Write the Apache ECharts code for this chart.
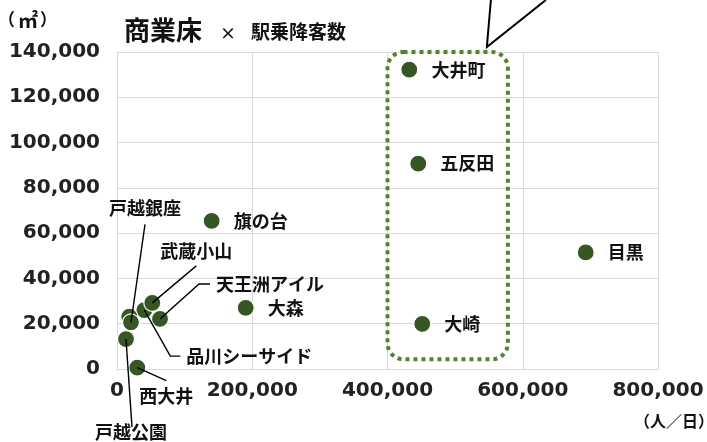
<!DOCTYPE html>
<html><head><meta charset="utf-8">
<script src="https://cdn.jsdelivr.net/npm/echarts@6/dist/echarts.min.js"></script>
<style>html,body{margin:0;padding:0;background:#fff}#c{width:707px;height:442px}</style>
</head><body><div id="c"></div>
<script>
// ---- data ----
const stations = ['大井町','五反田','大崎','目黒','旗の台','大森','品川シーサイド','武蔵小山','天王洲アイル','','戸越銀座','戸越公園','西大井'];
const ridership = [432200, 445500, 451400, 693100, 140000, 190300, 40400, 52200, 63600, 18200, 20700, 13300, 30000];
const floorArea = [132200, 90700, 19900, 51500, 65400, 27000, 26000, 29200, 22100, 23100, 20600, 13200, 600];
const xTicks = [0, 200000, 400000, 600000, 800000];
const yTicks = [0, 20000, 40000, 60000, 80000, 100000, 120000, 140000];
// highlighted group (data space): [xMin, xMax, yMin, yMax]
const highlightBox = [400000, 578000, 4300, 140000];

// ---- label placement (style, pixel offsets relative to each point) ----
const calloutLabels = {
  '戸越銀座':     {offset: [14, -114],  line: [[14, -98]]},
  '武蔵小山':     {offset: [44, -52],   line: [[44, -37]]},
  '天王洲アイル': {offset: [110, -35],  line: [[39, -35], [50, -35]]},
  '品川シーサイド': {offset: [105, 46], line: [[26, 46], [36, 46]]},
  '西大井':       {offset: [29, 29],    line: [[29, 13]]},
  '戸越公園':     {offset: [5, 93],     line: [[6, 88]]}
};
const labelFont = {fontFamily: '"Noto Sans CJK JP", sans-serif', fontSize: 18, fontWeight: 'bold', color: '#111'};
const tickFont = {fontFamily: '"DejaVu Sans", sans-serif', fontSize: 20, fontWeight: 'bold', color: '#222'};

const fmt = v => v.toLocaleString('en-US');

const data = stations.map((s, i) => {
  const item = {name: s, value: [ridership[i], floorArea[i]]};
  if (!s) {
    item.label = {show: false};
  } else if (calloutLabels[s]) {
    item.label = Object.assign({show: true, position: 'inside', align: 'center', verticalAlign: 'middle', offset: calloutLabels[s].offset, formatter: '{b}'}, labelFont);
  } else {
    item.label = Object.assign({show: true, position: 'right', distance: 13, formatter: '{b}'}, labelFont);
  }
  return item;
});

const chart = echarts.init(document.getElementById('c'), null, {renderer: 'canvas'});
const option = {
  animation: false,
  backgroundColor: '#fff',
  grid: {left: 117, right: 49, top: 52, bottom: 73, containLabel: false},
  xAxis: {
    type: 'value', min: xTicks[0], max: xTicks[xTicks.length - 1], interval: xTicks[1] - xTicks[0],
    axisLine: {show: true, lineStyle: {color: '#d9d9d9', width: 1}},
    axisTick: {show: false},
    splitLine: {show: true, lineStyle: {color: '#d9d9d9', width: 1}},
    axisLabel: Object.assign({margin: 12, formatter: fmt}, tickFont)
  },
  yAxis: {
    type: 'value', min: yTicks[0], max: yTicks[yTicks.length - 1], interval: yTicks[1] - yTicks[0],
    axisLine: {show: true, lineStyle: {color: '#d9d9d9', width: 1}},
    axisTick: {show: false},
    splitLine: {show: true, lineStyle: {color: '#d9d9d9', width: 1}},
    axisLabel: Object.assign({margin: 17, formatter: fmt}, tickFont)
  },
  series: [{
    type: 'scatter',
    symbolSize: 17,
    itemStyle: {color: '#375623', borderColor: '#fff', borderWidth: 1.2, opacity: 1},
    data: data,
    z: 2
  }]
};
chart.setOption(option);

// ---- annotations computed from data space ----
const g = [];
stations.forEach((s, i) => {
  const c = calloutLabels[s];
  if (!c) return;
  const p = chart.convertToPixel({seriesIndex: 0}, [ridership[i], floorArea[i]]);
  const pts = [[p[0], p[1]]].concat(c.line.map(o => [p[0] + o[0], p[1] + o[1]]));
  g.push({type: 'polyline', z: 10, shape: {points: pts}, style: {stroke: '#000', lineWidth: 1.4, fill: null}});
});
const tl = chart.convertToPixel({gridIndex: 0}, [highlightBox[0], highlightBox[3]]);
const br = chart.convertToPixel({gridIndex: 0}, [highlightBox[1], highlightBox[2]]);
g.push({type: 'rect', z: 9, shape: {x: tl[0], y: tl[1], width: br[0] - tl[0], height: br[1] - tl[1], r: 16},
  style: {fill: null, stroke: '#548235', lineWidth: 4, lineDash: [4, 4], lineCap: 'butt'}});
// callout pointer (speech-bubble tail above the box)
const tip = [br[0] - 21, tl[1] - 5];
g.push({type: 'polyline', z: 11, shape: {points: [[tip[0] + 4, 0], tip, [tip[0] + 59, 0]]},
  style: {stroke: '#000', lineWidth: 2, fill: null}});
// titles and units
const cjk = '"Noto Sans CJK JP", sans-serif';
g.push({type: 'text', z: 12, x: 124, y: 30, style: {text: '商業床', font: 'bold 26px ' + cjk, fill: '#111', textVerticalAlign: 'middle'}});
g.push({type: 'text', z: 12, x: 220, y: 33, style: {text: '×', font: 'bold 16px ' + cjk, fill: '#111', textVerticalAlign: 'middle'}});
g.push({type: 'text', z: 12, x: 251, y: 32, style: {text: '駅乗降客数', font: 'bold 19px ' + cjk, fill: '#111', textVerticalAlign: 'middle'}});
g.push({type: 'text', z: 12, x: -2, y: 20, style: {
  text: '{p|（}{m|㎡}{p|）}', textVerticalAlign: 'middle',
  rich: {
    p: {font: 'bold 17px ' + cjk, fill: '#111', color: '#111'},
    m: {font: 'bold 20px ' + cjk, fill: '#111', color: '#111', padding: [0, 2, 0, 3]}
  }}});
g.push({type: 'text', z: 12, x: 714, y: 421, style: {text: '（人／日）', font: 'bold 16px ' + cjk, fill: '#111', textAlign: 'right', textVerticalAlign: 'middle'}});
chart.setOption({graphic: {elements: g}});
</script>
</body></html>
